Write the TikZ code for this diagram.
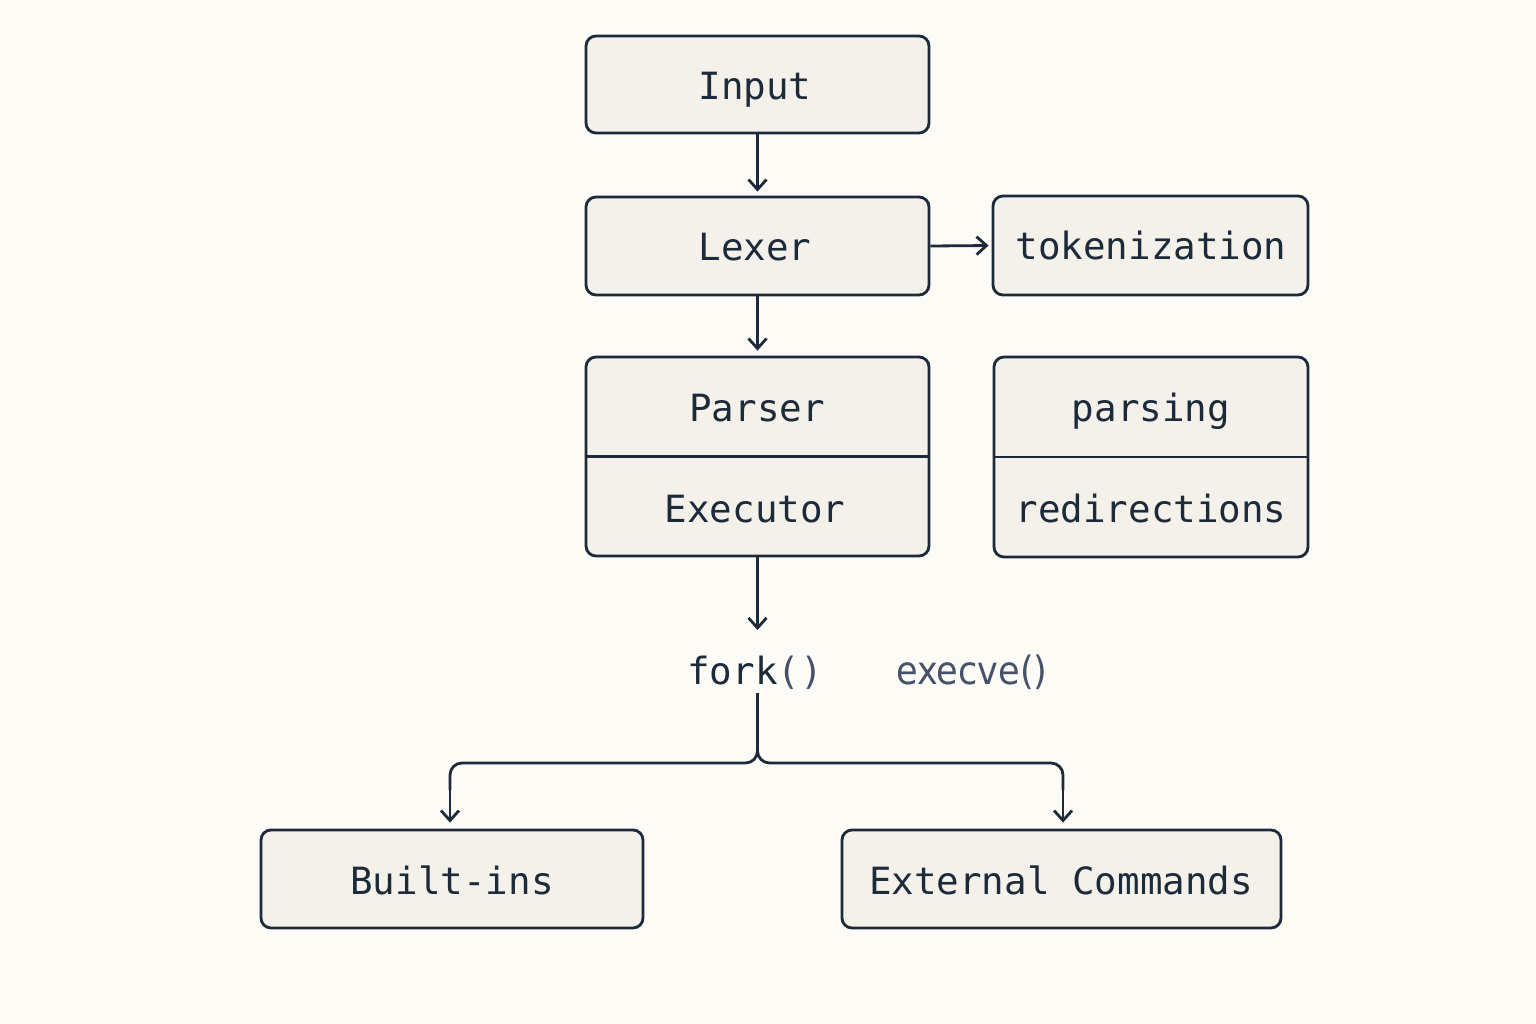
\documentclass[tikz,border=0pt]{standalone}
\usepackage{fontspec}
\setmonofont{DejaVu Sans Mono}
\newfontfamily\condfont{DejaVu Sans Condensed}
\usetikzlibrary{arrows.meta}
\definecolor{bgc}{HTML}{FDFBF6}
\definecolor{boxfill}{HTML}{F4F1EA}
\definecolor{ink}{HTML}{1C2A3A}
\definecolor{softink}{HTML}{46526A}
\tikzset{
  x=1pt, y=-1pt,
  box/.style={draw=ink, fill=boxfill, line width=2.8pt, rounded corners=10pt, inner sep=0pt},
  lbl/.style={anchor=base, text=ink, font=\fontsize{37.5}{40}\selectfont\ttfamily, inner sep=0pt},
  arr/.style={draw=ink, line width=2.8pt, -{Straight Barb[length=10pt,width=18pt,line width=2.8pt]}},
  conn/.style={draw=ink, line width=2.8pt}
}
\begin{document}
\begin{tikzpicture}
\fill[bgc] (0,0) rectangle (1536,1024);
\useasboundingbox (0,0) rectangle (1536,1024);
% boxes
\node[box, minimum width=343pt, minimum height=97pt] (in) at (757.5,84.5) {};
\node[box, minimum width=343pt, minimum height=98pt] (lex) at (757.5,246) {};
\node[box, minimum width=315pt, minimum height=99pt] (tok) at (1150.5,245.5) {};
\node[box, minimum width=343pt, minimum height=199pt] (pe) at (757.5,456.5) {};
\node[box, minimum width=314pt, minimum height=200pt] (pr) at (1151,457) {};
\node[box, minimum width=382pt, minimum height=98pt] (bi) at (452,879) {};
\node[box, minimum width=439pt, minimum height=98pt] (ext) at (1061.5,879) {};
\draw[conn] (pe.west) -- (pe.east);
\draw[conn] (pr.west) -- (pr.east);
% labels
\node[lbl] (tIn) at (755,100) {Input};
\node[lbl] (tLex) at (755,261) {Lexer};
\node[lbl] (tTok) at (1151,260) {tokenization};
\node[lbl] (tPar) at (757,421) {Parser};
\node[lbl] (tExe) at (755,522) {Executor};
\node[lbl] (tPrs) at (1151,421) {parsing};
\node[lbl] (tRed) at (1151,522) {redirections};
\node[lbl] (tBi) at (452,894) {Built-ins};
\node[lbl] (tExt) at (1061,894) {External Commands};
\node[lbl] (fork) at (755,684) {fork\textcolor{softink}{()}};
\node[anchor=base, inner sep=0pt, text=softink, font=\fontsize{39}{40}\selectfont\condfont] (execve) at (972,684) {execve()};
% connectors
\coordinate (forkbot) at (757.5,693);
\coordinate (forktop) at (757.5,630);
\draw[arr, shorten >=4pt] (in) -- (lex);
\draw[arr, shorten >=5pt] (lex) -- (pe);
\draw[arr, shorten >=3pt] (lex.east) -- (tok.west);
\draw[arr] (pe.south) -- (forktop);
\draw[conn, rounded corners=12pt] (forkbot) -- (757.5,763) -- (450,763) -- (450,790);
\draw[arr] (450,785) -- ([yshift=6pt]bi.north -| 450,0);
\draw[conn, rounded corners=12pt] (forkbot) -- (757.5,763) -- (1063,763) -- (1063,790);
\draw[arr] (1063,785) -- ([yshift=6pt]ext.north -| 1063,0);
\end{tikzpicture}
\end{document}
